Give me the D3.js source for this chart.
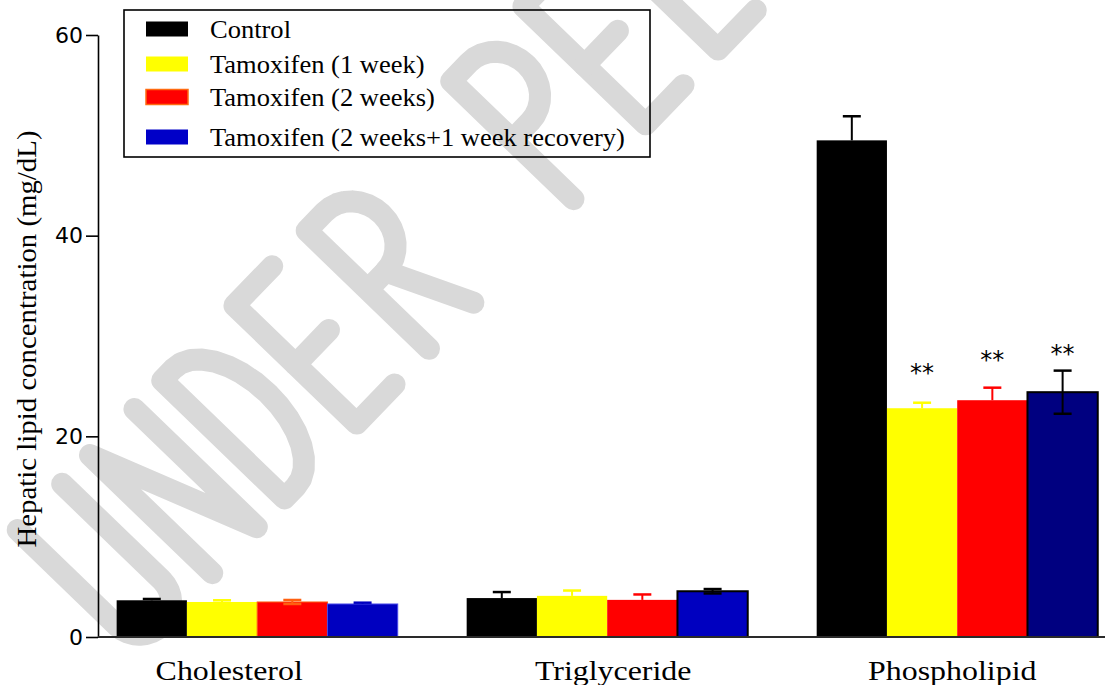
<!DOCTYPE html>
<html>
<head>
<meta charset="utf-8">
<script src="https://cdn.jsdelivr.net/npm/d3@7"></script>
<style>
  html, body { margin: 0; padding: 0; background: #ffffff; }
  svg { display: block; }
</style>
</head>
<body>
<svg id="chart" width="1109" height="685"></svg>
<script>
// ---- data (mg/dL, mean and SEM) ----
const categories = ["Cholesterol", "Triglyceride", "Phospholipid"];
const groups = ["Control", "Tamoxifen (1 week)", "Tamoxifen (2 weeks)", "Tamoxifen (2 weeks+1 week recovery)"];
const meanCholesterol  = [3.66, 3.49, 3.49, 3.29];
const semCholesterol   = [0.13, 0.17, 0.20, 0.13];
const meanTriglyceride = [3.88, 4.10, 3.70, 4.56];
const semTriglyceride  = [0.60, 0.53, 0.54, 0.22];
const meanPhospholipid = [49.5, 22.8, 23.6, 24.4];
const semPhospholipid  = [2.40, 0.55, 1.25, 2.15];
const yTicks = [0, 20, 40, 60];
// significance vs control (phospholipid) and the level where each mark sits
const sigPhospholipid   = ["", "**", "**", "**"];
const sigLevelPhospholipid = [null, 25.5, 26.8, 27.4];

const means = [meanCholesterol, meanTriglyceride, meanPhospholipid];
const sems = [semCholesterol, semTriglyceride, semPhospholipid];

// ---- styles ----
const seriesFill = ["#000000", "#ffff00", "#ff0000", "#0000c0"];
const styleByCat = [
  { fill4: "#0000c0", stroke: [null, null, "#ff5a10", "#4848e8"], errColor: ["#000", "#ffff00", "#ff6010", "#0000c0"], errBoth: [false, false, true, false] },
  { fill4: "#0000c0", stroke: [null, null, null, "#000"], errColor: ["#000", "#ffff00", "#ff0000", "#000"], errBoth: [false, false, false, true] },
  { fill4: "#000080", stroke: [null, null, null, "#000"], errColor: ["#000", "#ffff00", "#ff0000", "#000"], errBoth: [false, false, false, true] }
];
const labelShift = [-28, 6, -5];
const SERIF = "'Liberation Serif', 'Times New Roman', serif";
const SANS = "'DejaVu Sans', Arial, sans-serif";

const svg = d3.select("#chart");

// ---- watermark (single-stroke lettering, drawn beneath everything) ----
(function watermark() {
  const H = 170, W = 64, ADV = 104;
  const ang = -46 * Math.PI / 180;
  const b = [Math.cos(ang), Math.sin(ang)];
  const u = [Math.sin(ang), -Math.cos(ang)];
  const O = [140, 648];
  function arc(cx, cy, rx, ry, t0, t1, n = 16) {
    const pts = [];
    for (let i = 0; i <= n; i++) {
      const t = t0 + (t1 - t0) * i / n;
      pts.push([cx + rx * Math.cos(t), cy + ry * Math.sin(t)]);
    }
    return pts;
  }
  const P = Math.PI;
  const glyphs = {
    U: () => [[[0, H], [0, W / 2], ...arc(W / 2, W / 2, W / 2, W / 2, P, 2 * P), [W, H]]],
    N: () => [[[0, 0], [0, H], [W, 0], [W, H]]],
    D: () => [[[0, 0], [0, H], [0.25 * W, H], ...arc(0.25 * W, H / 2, 0.75 * W, H / 2, P / 2, -P / 2), [0, 0]]],
    E: () => [[[0.85 * W, H], [0, H], [0, 0], [0.85 * W, 0]], [[0, H / 2], [0.75 * W, H / 2]]],
    R: () => [[[0, 0], [0, H], [0.4 * W, H], ...arc(0.4 * W, 0.75 * H, 0.6 * W, 0.25 * H, P / 2, -P / 2), [0, H / 2]], [[0.4 * W, H / 2], [W, 0]]],
    P: () => [[[0, 0], [0, H], [0.4 * W, H], ...arc(0.4 * W, 0.75 * H, 0.6 * W, 0.25 * H, P / 2, -P / 2), [0, H / 2]]],
    V: () => [[[0, H], [W / 2, 0], [W, H]]],
    I: () => [[[0, 0], [0, H]]],
    W: () => [[[0, H], [0.3 * W, 0], [0.65 * W, H], [W, 0], [1.3 * W, H]]]
  };
  const g = svg.append("g").attr("class", "watermark");
  const line = d3.line();
  let x0 = 0;
  for (const ch of "UNDER PEER REVIEW") {
    if (glyphs[ch]) {
      glyphs[ch]().forEach(poly => {
        const pts = poly.map(([lx, ly]) => [
          O[0] + (x0 + lx) * b[0] + ly * u[0],
          O[1] + (x0 + lx) * b[1] + ly * u[1]
        ]);
        g.append("path").attr("d", line(pts))
          .attr("fill", "none").attr("stroke", "#d9d9d9").attr("stroke-width", 22)
          .attr("stroke-linecap", "round").attr("stroke-linejoin", "round");
      });
    }
    x0 += ADV;
  }
})();

// ---- scales ----
const y = d3.scaleLinear().domain([0, 60]).range([637, 35]);
const x = d3.scaleBand().domain(categories).range([98, 1105])
  .paddingInner(0.197).paddingOuter(0.037).align(0.72);
const xs = d3.scaleBand().domain(d3.range(groups.length)).range([0, x.bandwidth()]).padding(0);

// ---- y axis ----
const yAxis = d3.axisLeft(y).tickValues(yTicks).tickSize(12).tickPadding(3).tickSizeOuter(0);
const ga = svg.append("g").attr("transform", "translate(98,0)").call(yAxis);
ga.select(".domain").attr("stroke", "#000").attr("stroke-width", 1.6);
ga.selectAll(".tick line").attr("stroke", "#000").attr("stroke-width", 1.6);
ga.selectAll(".tick text").attr("font-family", SANS).attr("font-size", 22).attr("fill", "#000");

// axis title
svg.append("text")
  .attr("transform", "translate(36,339) rotate(-90) scale(1.03,1)")
  .attr("text-anchor", "middle")
  .attr("font-family", SERIF).attr("font-size", 28).attr("fill", "#000")
  .text("Hepatic lipid concentration (mg/dL)");

// ---- bars ----
const rows = [];
categories.forEach((c, ci) => {
  groups.forEach((s, si) => {
    rows.push({ c, ci, si, mean: means[ci][si], sem: sems[ci][si] });
  });
});

const gb = svg.append("g");
gb.selectAll("rect").data(rows).join("rect")
  .attr("x", d => x(d.c) + xs(d.si))
  .attr("width", xs.bandwidth())
  .attr("y", d => y(d.mean))
  .attr("height", d => y(0) - y(d.mean))
  .attr("fill", d => d.si === 3 ? styleByCat[d.ci].fill4 : seriesFill[d.si])
  .attr("stroke", d => styleByCat[d.ci].stroke[d.si] || "none")
  .attr("stroke-width", d => styleByCat[d.ci].stroke[d.si] === "#000" ? 2 : 1);

// ---- error bars ----
const ge = svg.append("g");
const CAP = 18;
rows.forEach(d => {
  const st = styleByCat[d.ci];
  const cx = x(d.c) + xs(d.si) + xs.bandwidth() / 2;
  const col = st.errColor[d.si];
  const top = y(d.mean + d.sem);
  const bot = st.errBoth[d.si] ? y(d.mean - d.sem) : y(d.mean);
  ge.append("line").attr("x1", cx).attr("x2", cx).attr("y1", top).attr("y2", bot)
    .attr("stroke", col).attr("stroke-width", 2);
  ge.append("line").attr("x1", cx - CAP / 2).attr("x2", cx + CAP / 2).attr("y1", top).attr("y2", top)
    .attr("stroke", col).attr("stroke-width", 2.5);
  if (st.errBoth[d.si]) {
    ge.append("line").attr("x1", cx - CAP / 2).attr("x2", cx + CAP / 2).attr("y1", bot).attr("y2", bot)
      .attr("stroke", col).attr("stroke-width", 2.5);
  }
});

// ---- x baseline ----
svg.append("line").attr("x1", 98).attr("x2", 1105).attr("y1", y(0)).attr("y2", y(0))
  .attr("stroke", "#2a2a2a").attr("stroke-width", 2);

// ---- category labels ----
categories.forEach((c, ci) => {
  svg.append("text")
    .attr("transform", `translate(${x(c) + x.bandwidth() / 2 + labelShift[ci]},680) scale(1.14,1)`)
    .attr("text-anchor", "middle")
    .attr("font-family", SERIF).attr("font-size", 28).attr("fill", "#000")
    .text(c);
});

// ---- significance marks ----
sigPhospholipid.forEach((m, si) => {
  if (!m) return;
  svg.append("text")
    .attr("x", x("Phospholipid") + xs(si) + xs.bandwidth() / 2)
    .attr("y", y(sigLevelPhospholipid[si]))
    .attr("text-anchor", "middle")
    .attr("font-family", SANS).attr("font-size", 24).attr("fill", "#000")
    .text(m);
});

// ---- legend ----
const gl = svg.append("g");
gl.append("rect").attr("x", 124).attr("y", 10).attr("width", 526).attr("height", 147)
  .attr("fill", "none").attr("stroke", "#000").attr("stroke-width", 1.6);
const legendRowY = [29, 64, 97, 137];
const legendSwatch = [
  { fill: "#000000", stroke: "none" },
  { fill: "#ffff00", stroke: "none" },
  { fill: "#ff0000", stroke: "#ff6a10" },
  { fill: "#0000c8", stroke: "none" }
];
groups.forEach((g, i) => {
  gl.append("rect").attr("x", 146).attr("y", legendRowY[i] - 7.5).attr("width", 42).attr("height", 15)
    .attr("fill", legendSwatch[i].fill).attr("stroke", legendSwatch[i].stroke).attr("stroke-width", 1.5);
  gl.append("text")
    .attr("transform", `translate(210,${legendRowY[i] + 8.5}) scale(1.04,1)`)
    .attr("font-family", SERIF).attr("font-size", 25.5).attr("fill", "#000")
    .text(g);
});
</script>
</body>
</html>
